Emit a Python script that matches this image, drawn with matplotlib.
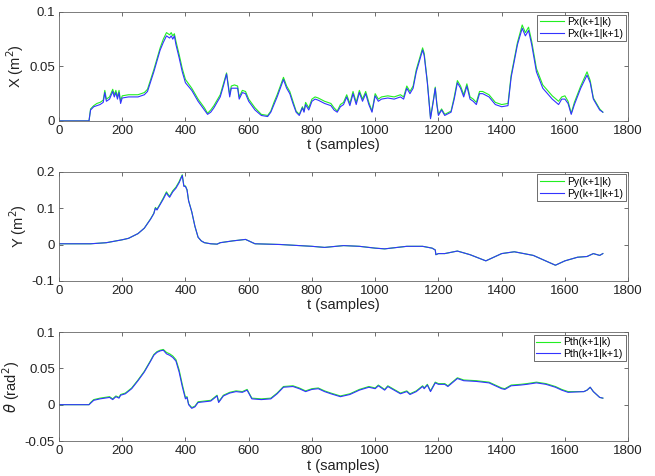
import matplotlib.pyplot as plt

plt.rcParams['font.family'] = ['Liberation Sans', 'DejaVu Sans']

# X covariance
tx = [0, 95, 100, 110, 120, 130, 140, 145, 150, 160,
      170, 175, 180, 185, 190, 195, 200, 220, 250, 270,
      280, 300, 310, 320, 330, 340, 350, 355, 360, 365,
      370, 380, 390, 400, 420, 440, 460, 470, 480, 490,
      500, 510, 520, 530, 540, 545, 555, 565, 570, 580,
      590, 600, 620, 640, 660, 670, 680, 690, 700, 710,
      720, 730, 740, 750, 760, 770, 775, 780, 790, 800,
      810, 820, 840, 860, 870, 880, 890, 900, 910, 920,
      930, 940, 950, 960, 970, 980, 990, 1000, 1010, 1020,
      1040, 1060, 1080, 1090, 1100, 1110, 1120, 1130, 1140, 1150,
      1155, 1165, 1175, 1185, 1190, 1195, 1200, 1210, 1220, 1240,
      1250, 1260, 1270, 1280, 1290, 1300, 1310, 1320, 1330, 1340,
      1360, 1380, 1400, 1420, 1430, 1450, 1465, 1475, 1485, 1495,
      1510, 1530, 1560, 1580, 1590, 1600, 1610, 1620, 1630, 1650,
      1670, 1680, 1690, 1710, 1720]
px_upd = [0, 0, 0.010, 0.013, 0.014, 0.015, 0.017, 0.026, 0.018, 0.020,
          0.027, 0.022, 0.026, 0.020, 0.026, 0.016, 0.021, 0.022, 0.022, 0.024,
          0.027, 0.045, 0.055, 0.065, 0.072, 0.078, 0.076, 0.078, 0.075, 0.078,
          0.070, 0.058, 0.045, 0.035, 0.028, 0.018, 0.010, 0.006, 0.008, 0.012,
          0.017, 0.022, 0.032, 0.043, 0.022, 0.030, 0.030, 0.030, 0.020, 0.026,
          0.025, 0.018, 0.010, 0.005, 0.004, 0.008, 0.015, 0.022, 0.030, 0.038,
          0.030, 0.025, 0.016, 0.008, 0.005, 0.012, 0.008, 0.015, 0.010, 0.018,
          0.020, 0.019, 0.016, 0.014, 0.010, 0.008, 0.013, 0.015, 0.022, 0.014,
          0.025, 0.015, 0.026, 0.018, 0.025, 0.015, 0.008, 0.023, 0.018, 0.020,
          0.021, 0.020, 0.022, 0.020, 0.030, 0.025, 0.030, 0.045, 0.055, 0.065,
          0.060, 0.035, 0.002, 0.020, 0.030, 0.015, 0.005, 0.010, 0.005, 0.008,
          0.020, 0.035, 0.030, 0.022, 0.032, 0.020, 0.018, 0.015, 0.025, 0.025,
          0.022, 0.015, 0.013, 0.014, 0.040, 0.070, 0.085, 0.078, 0.083, 0.070,
          0.045, 0.030, 0.020, 0.015, 0.020, 0.020, 0.016, 0.006, 0.015, 0.030,
          0.042, 0.035, 0.020, 0.010, 0.008]
px_pred = [0, 0, 0.011, 0.014, 0.016, 0.017, 0.019, 0.028, 0.020, 0.022,
           0.029, 0.024, 0.028, 0.022, 0.028, 0.018, 0.023, 0.024, 0.024, 0.026,
           0.029, 0.047, 0.057, 0.067, 0.075, 0.081, 0.079, 0.081, 0.078, 0.080,
           0.073, 0.061, 0.048, 0.038, 0.030, 0.020, 0.012, 0.007, 0.010, 0.014,
           0.019, 0.024, 0.034, 0.044, 0.024, 0.032, 0.033, 0.032, 0.022, 0.028,
           0.027, 0.020, 0.012, 0.006, 0.005, 0.009, 0.017, 0.024, 0.032, 0.040,
           0.032, 0.027, 0.018, 0.009, 0.006, 0.013, 0.009, 0.017, 0.012, 0.020,
           0.022, 0.021, 0.018, 0.016, 0.012, 0.009, 0.015, 0.017, 0.024, 0.016,
           0.027, 0.017, 0.028, 0.020, 0.027, 0.017, 0.009, 0.025, 0.020, 0.022,
           0.023, 0.022, 0.024, 0.022, 0.032, 0.027, 0.032, 0.047, 0.057, 0.067,
           0.062, 0.036, 0.003, 0.021, 0.031, 0.016, 0.006, 0.011, 0.006, 0.009,
           0.022, 0.037, 0.032, 0.024, 0.034, 0.022, 0.020, 0.017, 0.027, 0.027,
           0.024, 0.017, 0.015, 0.016, 0.042, 0.072, 0.088, 0.081, 0.086, 0.073,
           0.048, 0.033, 0.023, 0.018, 0.022, 0.023, 0.018, 0.007, 0.017, 0.032,
           0.045, 0.037, 0.021, 0.011, 0.008]

# Y covariance
ty = [0, 100, 150, 200, 220, 250, 270, 290, 300, 305,
      310, 320, 330, 340, 345, 350, 360, 370, 380, 385,
      390, 395, 400, 405, 410, 420, 430, 440, 450, 460,
      480, 500, 510, 550, 590, 600, 620, 700, 800, 840,
      900, 950, 1000, 1030, 1100, 1150, 1180, 1190, 1192, 1200,
      1220, 1260, 1300, 1350, 1400, 1440, 1500, 1570, 1600, 1640,
      1670, 1690, 1710, 1720]
py_upd = [0.002, 0.002, 0.005, 0.013, 0.017, 0.030, 0.045, 0.070, 0.085, 0.100,
          0.095, 0.110, 0.125, 0.142, 0.135, 0.130, 0.145, 0.155, 0.170, 0.180,
          0.190, 0.160, 0.160, 0.150, 0.120, 0.090, 0.050, 0.020, 0.010, 0.005,
          0.002, 0.001, 0.005, 0.010, 0.014, 0.010, 0.002, 0.000, -0.005, -0.008,
          -0.003, -0.005, -0.010, -0.012, -0.005, -0.005, -0.010, -0.015, -0.028, -0.025,
          -0.025, -0.018, -0.028, -0.045, -0.025, -0.020, -0.030, -0.057, -0.045, -0.035,
          -0.033, -0.025, -0.030, -0.025]
py_pred = [0.002, 0.002, 0.005, 0.013, 0.017, 0.030, 0.045, 0.071, 0.086, 0.102,
           0.097, 0.112, 0.128, 0.145, 0.138, 0.133, 0.148, 0.158, 0.173, 0.183,
           0.192, 0.162, 0.161, 0.151, 0.121, 0.090, 0.050, 0.020, 0.010, 0.005,
           0.002, 0.001, 0.005, 0.010, 0.014, 0.010, 0.002, 0.000, -0.005, -0.008,
           -0.003, -0.005, -0.010, -0.012, -0.005, -0.005, -0.010, -0.015, -0.028, -0.025,
           -0.025, -0.018, -0.028, -0.045, -0.025, -0.020, -0.030, -0.057, -0.045, -0.035,
           -0.033, -0.025, -0.030, -0.025]

# theta covariance
tth = [0, 95, 100, 110, 130, 160, 170, 180, 190, 195,
       210, 230, 250, 270, 290, 300, 310, 320, 330, 340,
       350, 360, 370, 380, 390, 400, 405, 410, 420, 430,
       440, 460, 480, 500, 505, 520, 540, 560, 580, 595,
       610, 640, 670, 690, 710, 740, 760, 780, 800, 820,
       840, 860, 890, 920, 950, 980, 1000, 1010, 1030, 1040,
       1060, 1080, 1100, 1110, 1130, 1150, 1155, 1165, 1175, 1190,
       1200, 1220, 1230, 1260, 1280, 1320, 1360, 1400, 1410, 1430,
       1460, 1480, 1510, 1540, 1570, 1590, 1610, 1660, 1670, 1680,
       1690, 1710, 1720]
pth_upd = [0, 0, 0.002, 0.006, 0.008, 0.010, 0.007, 0.011, 0.009, 0.013,
           0.015, 0.022, 0.033, 0.045, 0.060, 0.068, 0.072, 0.074, 0.075, 0.070,
           0.068, 0.065, 0.060, 0.045, 0.025, 0.008, 0.010, 0.000, -0.005, -0.003,
           0.003, 0.004, 0.005, 0.012, 0.003, 0.012, 0.016, 0.018, 0.017, 0.020,
           0.008, 0.007, 0.008, 0.015, 0.024, 0.025, 0.022, 0.018, 0.021, 0.022,
           0.018, 0.015, 0.011, 0.014, 0.020, 0.024, 0.022, 0.026, 0.020, 0.025,
           0.020, 0.015, 0.018, 0.014, 0.018, 0.025, 0.022, 0.027, 0.018, 0.030,
           0.028, 0.028, 0.025, 0.036, 0.033, 0.032, 0.030, 0.022, 0.021, 0.026,
           0.027, 0.028, 0.030, 0.028, 0.024, 0.020, 0.017, 0.018, 0.020, 0.024,
           0.018, 0.010, 0.009]
pth_pred = [0, 0, 0.003, 0.007, 0.009, 0.011, 0.008, 0.012, 0.010, 0.014,
            0.016, 0.023, 0.034, 0.046, 0.061, 0.069, 0.073, 0.075, 0.076, 0.072,
            0.070, 0.067, 0.062, 0.048, 0.028, 0.010, 0.011, 0.001, -0.004, -0.002,
            0.004, 0.005, 0.006, 0.013, 0.004, 0.013, 0.017, 0.019, 0.018, 0.021,
            0.009, 0.008, 0.009, 0.016, 0.025, 0.026, 0.023, 0.019, 0.022, 0.023,
            0.019, 0.016, 0.012, 0.015, 0.021, 0.025, 0.023, 0.027, 0.021, 0.026,
            0.021, 0.016, 0.019, 0.015, 0.019, 0.026, 0.023, 0.028, 0.019, 0.031,
            0.029, 0.029, 0.026, 0.037, 0.034, 0.033, 0.031, 0.023, 0.022, 0.027,
            0.028, 0.029, 0.031, 0.029, 0.025, 0.021, 0.018, 0.018, 0.020, 0.024,
            0.018, 0.010, 0.009]

panels = [
    (tx, px_pred, px_upd, 'Px(k+1|k)', 'Px(k+1|k+1)', 'X (m$^2$)', (0, 0.1), [0, 0.05, 0.1], ['0', '0.05', '0.1']),
    (ty, py_pred, py_upd, 'Py(k+1|k)', 'Py(k+1|k+1)', 'Y (m$^2$)', (-0.1, 0.2), [-0.1, 0, 0.1, 0.2], ['-0.1', '0', '0.1', '0.2']),
    (tth, pth_pred, pth_upd, 'Pth(k+1|k)', 'Pth(k+1|k+1)', r'$\theta$ (rad$^2$)', (-0.05, 0.1), [-0.05, 0, 0.05, 0.1], ['-0.05', '0', '0.05', '0.1']),
]

fig = plt.figure(figsize=(6.55, 4.76), dpi=100)
bottoms = [0.746, 0.410, 0.0735]
for (t, pred, upd, l1, l2, ylab, ylim, yt, ytl), b in zip(panels, bottoms):
    ax = fig.add_axes([0.090, b, 0.869, 0.229])
    ax.plot(t, pred, color='#22ee22', lw=0.8, label=l1)
    ax.plot(t, upd, color='#3333ff', lw=0.8, label=l2)
    ax.set_xlim(0, 1800)
    ax.set_ylim(*ylim)
    ax.set_xticks(range(0, 1801, 200))
    ax.set_yticks(yt)
    ax.set_yticklabels(ytl)
    ax.tick_params(direction='in', top=True, right=True, labelsize=9.5, length=3,
                   width=0.6, colors='#555555', labelcolor='#222222', pad=3)
    for s in ax.spines.values():
        s.set_linewidth(0.6)
        s.set_color('#666666')
    ax.set_xlabel('t (samples)', fontsize=10.5, labelpad=1, color='#222222')
    ax.set_ylabel(ylab, fontsize=10.5, labelpad=2, color='#222222')
    leg = ax.legend(loc='upper right', fontsize=7.5, fancybox=False, framealpha=1,
                    edgecolor='#555555', handlelength=2.3, handletextpad=0.3,
                    borderpad=0.25, labelspacing=0.15, borderaxespad=0.25)
    leg.get_frame().set_linewidth(0.6)

fig.savefig('out.png', dpi=100, facecolor='white')
